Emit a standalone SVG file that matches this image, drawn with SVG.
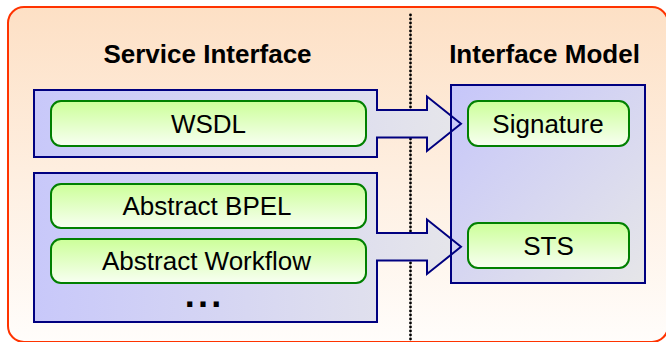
<svg xmlns="http://www.w3.org/2000/svg" width="666" height="342" viewBox="0 0 666 342">
  <defs>
    <linearGradient id="gBg" x1="0" y1="0" x2="0" y2="1">
      <stop offset="0" stop-color="#fde0c5"/>
      <stop offset="1" stop-color="#fffdfb"/>
    </linearGradient>
    <linearGradient id="gLeft" gradientUnits="userSpaceOnUse" x1="34" y1="0" x2="461" y2="0">
      <stop offset="0" stop-color="#c8c8fa"/>
      <stop offset="1" stop-color="#e6e6ea"/>
    </linearGradient>
    <linearGradient id="gRight" x1="0" y1="0" x2="1" y2="1">
      <stop offset="0" stop-color="#c6c6fa"/>
      <stop offset="1" stop-color="#e6e6e8"/>
    </linearGradient>
    <linearGradient id="gGreen" x1="0" y1="0" x2="0" y2="1">
      <stop offset="0" stop-color="#ccff99"/>
      <stop offset="1" stop-color="#f8fff2"/>
    </linearGradient>
    <style>
      .box { stroke: #000080; stroke-width: 2; }
      .arrowFill { fill: url(#gLeft); stroke: none; }
      .arrowLine { fill: none; stroke: #000080; stroke-width: 2; stroke-linejoin: miter; }
      .item { fill: url(#gGreen); stroke: #008000; stroke-width: 2; }
      .lbl { font-family: "Liberation Sans", Arial, sans-serif; font-size: 26px; fill: #000; text-anchor: middle; }
      .title { font-family: "Liberation Sans", Arial, sans-serif; font-size: 26px; font-weight: bold; fill: #000; text-anchor: middle; }
    </style>
  </defs>

  <g id="background">
    <rect x="8" y="7" width="660" height="335" rx="16" ry="16" fill="url(#gBg)" stroke="#ff3300" stroke-width="2"/>
  </g>

  <line id="separator" x1="410.5" y1="15" x2="410.5" y2="340" stroke="#000" stroke-width="2.8" stroke-linecap="round" stroke-dasharray="0 4"/>

  <g id="title-service-interface">
    <text class="title" x="207.5" y="63">Service Interface</text>
  </g>
  <g id="title-interface-model">
    <text class="title" x="544.5" y="63">Interface Model</text>
  </g>

  <g id="wsdl-group">
    <rect class="box" x="34" y="90" width="343" height="67" fill="url(#gLeft)"/>
  </g>
  <g id="abstract-group">
    <rect class="box" x="34" y="173" width="343" height="149" fill="url(#gLeft)"/>
  </g>
  <g id="interface-model-box">
    <rect class="box" x="451" y="85" width="194" height="198" fill="url(#gRight)"/>
  </g>

  <g id="wsdl">
    <rect class="item" x="51" y="101" width="315" height="45" rx="10" ry="10"/>
    <text class="lbl" x="208.5" y="133.3">WSDL</text>
  </g>
  <g id="abstract-bpel">
    <rect class="item" x="51" y="184" width="315" height="44" rx="10" ry="10"/>
    <text class="lbl" x="207" y="215.3">Abstract BPEL</text>
  </g>
  <g id="abstract-workflow">
    <rect class="item" x="51" y="239" width="315" height="44" rx="10" ry="10"/>
    <text class="lbl" x="206.5" y="270.3">Abstract Workflow</text>
  </g>
  <g id="more">
    <text x="184.7" y="307.3" font-family="Liberation Sans, Arial, sans-serif" font-size="36" font-weight="bold" letter-spacing="3.3">...</text>
  </g>
  <g id="signature">
    <rect class="item" x="468" y="101" width="161" height="45" rx="10" ry="10"/>
    <text class="lbl" x="548" y="133.3">Signature</text>
  </g>
  <g id="sts">
    <rect class="item" x="468" y="223" width="161" height="45" rx="10" ry="10"/>
    <text class="lbl" x="548.5" y="255.3">STS</text>
  </g>

  <g id="connectors">
    <polygon class="arrowFill" points="376,110 427,110 427,96.5 450,114.4 450,133.1 427,151 427,137.5 376,137.5"/>
    <polyline class="arrowLine" points="377,109 377,110 427,110 427,96.5 461,123.8 427,151 427,137.5 377,137.5 377,138.5"/>
    <polygon class="arrowFill" points="376,233 427,233 427,219.5 450,237.4 450,256.1 427,274 427,260.5 376,260.5"/>
    <polyline class="arrowLine" points="377,232 377,233 427,233 427,219.5 461,246.8 427,274 427,260.5 377,260.5 377,261.5"/>
  </g>
</svg>
